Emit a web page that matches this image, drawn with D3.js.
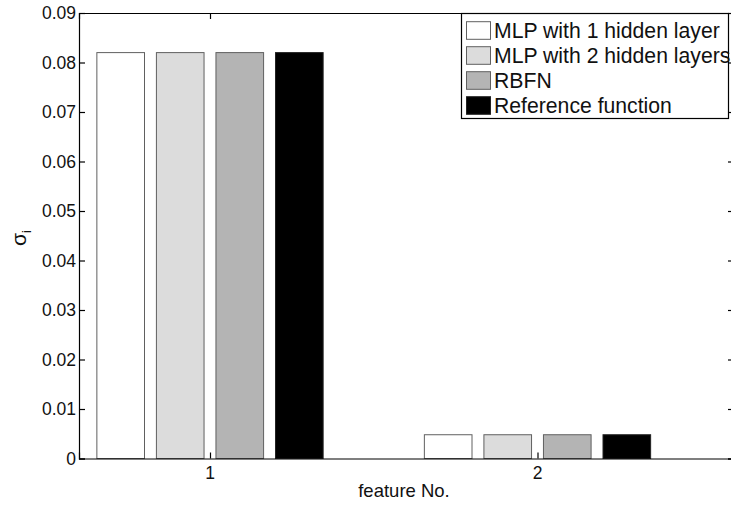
<!DOCTYPE html>
<html>
<head>
<meta charset="utf-8">
<script src="https://cdn.jsdelivr.net/npm/d3@7"></script>
<style>
  html, body { margin: 0; padding: 0; background: #fff; }
  svg { display: block; font-family: "Liberation Sans", Arial, Helvetica, sans-serif; }
</style>
</head>
<body>
<svg id="chart" width="731" height="506"></svg>
<script>
// Sensitivity sigma_i per input feature, for each approximator
const features = [1, 2];
const seriesNames = ["MLP with 1 hidden layer", "MLP with 2 hidden layers", "RBFN", "Reference function"];
const seriesColors = ["#ffffff", "#dcdcdc", "#b4b4b4", "#000000"];
const mlp1 = [0.082, 0.0048];
const mlp2 = [0.082, 0.0048];
const rbfn = [0.082, 0.0048];
const reference = [0.082, 0.0048];
const yTicks = [0, 0.01, 0.02, 0.03, 0.04, 0.05, 0.06, 0.07, 0.08, 0.09];

const series = [mlp1, mlp2, rbfn, reference];

const svg = d3.select("#chart");
const plotL = 79, plotR = 734, plotT = 13, plotB = 458.5;

const x = d3.scaleLinear().domain([0.6, 2.6]).range([plotL, plotR]);
const y = d3.scaleLinear().domain([0, 0.09]).range([plotB, plotT]);

// grouped bar geometry (in feature units)
const nS = series.length;
const groupWidth = Math.min(0.8, nS / (nS + 1.5));
const step = groupWidth / nS;
const barW = step * 0.8;

const bars = svg.append("g");
series.forEach((vals, si) => {
  const offset = (si - (nS - 1) / 2) * step;
  bars.selectAll(null)
    .data(features.map((f, i) => ({ f, v: vals[i] })))
    .enter().append("rect")
    .attr("x", d => x(d.f + offset - barW / 2))
    .attr("width", d => x(d.f + offset + barW / 2) - x(d.f + offset - barW / 2))
    .attr("y", d => y(d.v))
    .attr("height", d => y(0) - y(d.v))
    .attr("fill", seriesColors[si])
    .attr("stroke", si === 3 ? "#222" : "#606060")
    .attr("stroke-width", 1);
});

// axes: ticks point inward, box on all four sides
const fmt = d => d === 0 ? "0" : d3.format(".2f")(d);
const tickLen = 6;

const axL = svg.append("g").attr("transform", `translate(${plotL},0)`)
  .call(d3.axisRight(y).tickValues(yTicks).tickSize(tickLen).tickFormat(""));
const axR = svg.append("g").attr("transform", `translate(${plotR},0)`)
  .call(d3.axisLeft(y).tickValues(yTicks).tickSize(tickLen).tickFormat(""));
const axB = svg.append("g").attr("transform", `translate(0,${plotB})`)
  .call(d3.axisTop(x).tickValues(features).tickSize(tickLen).tickFormat(""));
const axT = svg.append("g").attr("transform", `translate(0,${plotT})`)
  .call(d3.axisBottom(x).tickValues(features).tickSize(tickLen).tickFormat(""));
[axL, axR, axB, axT].forEach(g => {
  g.select(".domain").attr("stroke", "#000").attr("stroke-width", 1.2);
  g.selectAll(".tick line").attr("stroke", "#000").attr("stroke-width", 1.2);
});

// tick labels
svg.append("g").selectAll("text").data(yTicks).enter().append("text")
  .attr("x", plotL - 3)
  .attr("y", d => y(d))
  .attr("dy", "0.36em")
  .attr("text-anchor", "end")
  .attr("font-size", 17.5)
  .attr("fill", "#111")
  .text(fmt);

svg.append("g").selectAll("text").data(features).enter().append("text")
  .attr("x", d => x(d))
  .attr("y", 479)
  .attr("text-anchor", "middle")
  .attr("font-size", 17.5)
  .attr("fill", "#111")
  .text(d => d);

// axis titles
svg.append("text")
  .attr("x", (plotL + 731) / 2 - 1)
  .attr("y", 497)
  .attr("text-anchor", "middle")
  .attr("font-size", 18.5)
  .attr("fill", "#111")
  .text("feature No.");

const yl = svg.append("text")
  .attr("transform", "translate(26,238) rotate(-90)")
  .attr("text-anchor", "middle")
  .attr("font-size", 21)
  .attr("fill", "#111");
yl.append("tspan").text("σ");
yl.append("tspan").attr("font-size", 13).attr("dy", 5).text("i");

// legend
const lg = svg.append("g");
lg.append("rect")
  .attr("x", 461.5).attr("y", 13.5)
  .attr("width", 267).attr("height", 105)
  .attr("fill", "#fff").attr("stroke", "#000").attr("stroke-width", 1.2);
seriesNames.forEach((name, i) => {
  const rowY = 30.5 + i * 25;
  lg.append("rect")
    .attr("x", 466.5).attr("y", rowY - 8.8)
    .attr("width", 24).attr("height", 17.6)
    .attr("fill", seriesColors[i])
    .attr("stroke", i === 3 ? "#222" : "#606060").attr("stroke-width", 1);
  lg.append("text")
    .attr("x", 494)
    .attr("y", rowY)
    .attr("dy", "0.36em")
    .attr("font-size", 21.2)
    .attr("fill", "#111")
    .text(name);
});
</script>
</body>
</html>
